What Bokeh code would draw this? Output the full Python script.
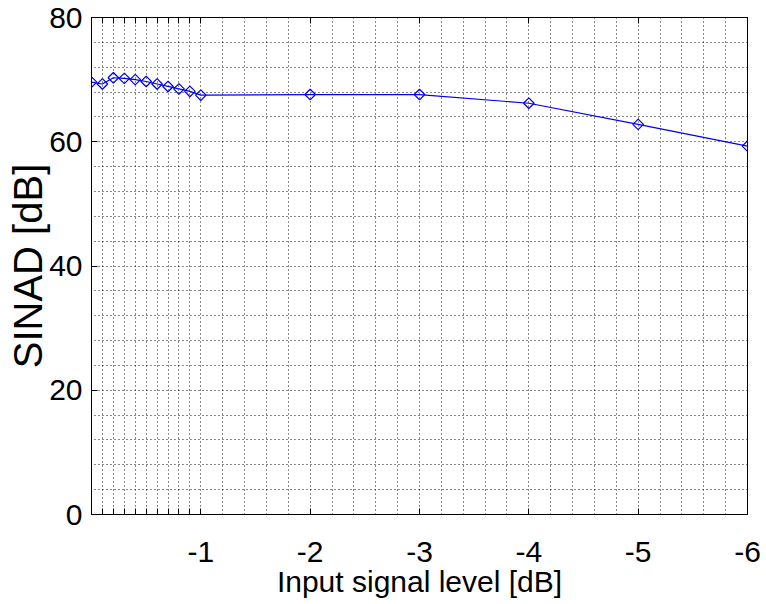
from bokeh.plotting import figure
from bokeh.models import Range1d, FixedTicker, LinearAxis, Grid
from bokeh.embed import file_html
from bokeh.resources import INLINE

# data
x_level = [0, -0.1, -0.2, -0.3, -0.4, -0.5, -0.6, -0.7, -0.8, -0.9, -1.0, -2, -3, -4, -5, -6]
sinad = [69.6, 69.3, 70.3, 70.2, 70.0, 69.7, 69.3, 68.9, 68.5, 68.1, 67.5, 67.6, 67.6, 66.2, 62.8, 59.3]

x_major = [-0.1, -0.2, -0.3, -0.4, -0.5, -0.6, -0.7, -0.8, -0.9, -1, -2, -3, -4, -5, -6]
x_labels = {-1: "-1", -2: "-2", -3: "-3", -4: "-4", -5: "-5", -6: "-6"}
x_grid = [-0.1 * i for i in range(1, 10)] + [-1 - 0.2 * i for i in range(0, 26)]
y_major = [0, 20, 40, 60, 80]
y_grid = [4 * i for i in range(1, 20)]

FONT = "Liberation Sans"

p = figure(width=766, height=604, output_backend="svg", toolbar_location=None,
           x_range=Range1d(0, -6), y_range=Range1d(0, 80),
           min_border_left=91, min_border_right=19, min_border_top=17, min_border_bottom=90)
p.background_fill_color = "white"
p.border_fill_color = "white"
p.outline_line_color = "black"
p.outline_line_width = 1
p.xgrid.visible = False
p.ygrid.visible = False

for dim, ticks in ((0, x_grid), (1, y_grid)):
    g = Grid(dimension=dim, ticker=FixedTicker(ticks=ticks),
             grid_line_color="black", grid_line_dash="1 3", grid_line_width=1, grid_line_alpha=0.9)
    p.add_layout(g)

xa = p.xaxis[0]
xa.ticker = FixedTicker(ticks=x_major)
xa.major_label_overrides = {t: x_labels.get(t, "") for t in x_major}
xa.major_tick_in = 6
xa.major_tick_out = 0
xa.minor_tick_line_color = None
xa.major_label_standoff = 27
xa.major_label_text_font = FONT
xa.major_label_text_font_size = "30px"
xa.major_label_text_color = "black"
xa.axis_label = "Input signal level [dB]"
xa.axis_label_text_font = FONT
xa.axis_label_text_font_size = "30px"
xa.axis_label_text_font_style = "normal"
xa.axis_label_text_color = "black"
xa.axis_label_standoff = 0

ya = p.yaxis[0]
ya.ticker = FixedTicker(ticks=y_major)
ya.major_tick_in = 6
ya.major_tick_out = 0
ya.minor_tick_line_color = None
ya.major_label_standoff = 9
ya.major_label_text_font = FONT
ya.major_label_text_font_size = "30px"
ya.major_label_text_color = "black"
ya.axis_label = "SINAD [dB]"
ya.axis_label_text_font = FONT
ya.axis_label_text_font_size = "40px"
ya.axis_label_text_font_style = "normal"
ya.axis_label_text_color = "black"
ya.axis_label_standoff = -4

top = LinearAxis(ticker=FixedTicker(ticks=x_major), major_tick_in=6, major_tick_out=0,
                 minor_tick_line_color=None, major_label_text_font_size="0px",
                 major_label_standoff=0)
top.major_label_overrides = {t: "" for t in x_major}
p.add_layout(top, "above")

p.line(x_level, sinad, line_color="#0000ee", line_width=1.2)
p.scatter(x_level, sinad, marker="square", size=7.5, angle=0.785398,
          line_color="#0000ee", fill_color=None, line_width=1.2)

open("out.html", "w").write(file_html(p, INLINE))
